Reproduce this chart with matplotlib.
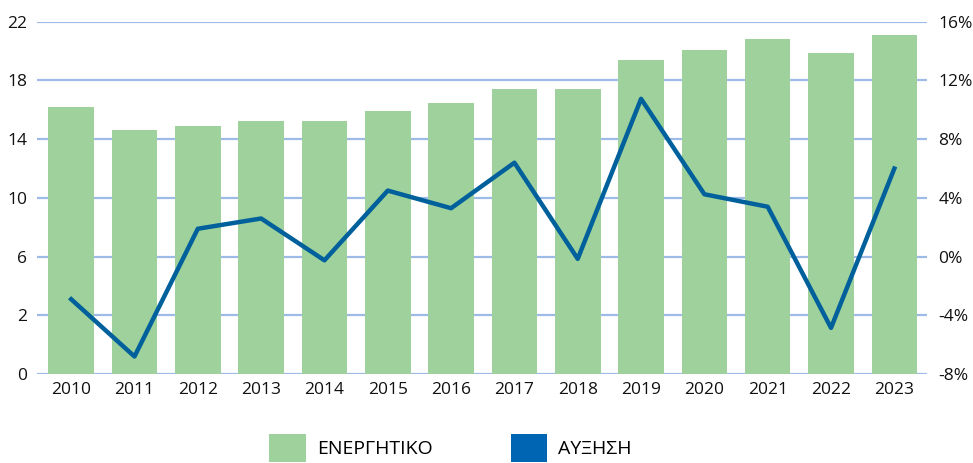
import numpy as np
from matplotlib import pyplot as plt
from matplotlib.patches import Patch

plt.rcParams['font.family'] = ['Open Sans', 'DejaVu Sans']

years = ['2010', '2011', '2012', '2013', '2014', '2015', '2016',
         '2017', '2018', '2019', '2020', '2021', '2022', '2023']
energitiko = [16.2, 14.6, 14.9, 15.25, 15.25, 15.9, 16.5,
              17.4, 17.4, 19.4, 20.1, 20.8, 19.9, 21.1]
afxisi = [-2.9, -6.8, 1.9, 2.6, -0.25, 4.5, 3.3,
          6.4, -0.15, 10.75, 4.25, 3.4, -4.85, 6.0]

left_ticks = [-2, 2, 6, 10, 14, 18, 22]
left_labels = ['0', '2', '6', '10', '14', '18', '22']
right_ticks = [-8, -4, 0, 4, 8, 12, 16]

bar_color = '#9ed19b'
line_color = '#00609c'
legend_blue = '#0066b3'
grid_color = '#9dbbe6'

fig = plt.figure(figsize=(9.73, 4.63), dpi=100)
ax = fig.add_axes([0.038, 0.192, 0.915, 0.761])
ax2 = ax.twinx()

x = np.arange(len(years))
ymin = left_ticks[0]
ax.bar(x, np.array(energitiko) - ymin, bottom=ymin, width=0.72,
       color=bar_color, zorder=2)
ax.set_ylim(left_ticks[0], left_ticks[-1])
ax.set_yticks(left_ticks)
ax.set_yticklabels(left_labels)
ax.set_xlim(-0.54, 13.52)
ax.set_xticks(x)
ax.set_xticklabels(years)
ax.grid(axis='y', color=grid_color, linewidth=1.6, zorder=0)
ax.set_axisbelow(True)

ax2.plot(x, afxisi, color=line_color, linewidth=3.2, zorder=3)
ax2.set_ylim(right_ticks[0], right_ticks[-1])
ax2.set_yticks(right_ticks)
ax2.set_yticklabels([f'{v}%' for v in right_ticks])

for a in (ax, ax2):
    for s in a.spines.values():
        s.set_visible(False)
    a.tick_params(length=0, labelsize=12.5, colors='#111111')
ax.tick_params(axis='y', pad=7)
ax.tick_params(axis='x', pad=6)
ax2.tick_params(axis='y', pad=8)

handles = [Patch(facecolor=bar_color), Patch(facecolor=legend_blue)]
fig.legend(handles, ['ΕΝΕΡΓΗΤΙΚΟ', 'ΑΥΞΗΣΗ'], loc='center',
           bbox_to_anchor=(0.463, 0.032), ncol=2, frameon=False,
           fontsize=14, handlelength=1.9, handleheight=1.8,
           handletextpad=0.55, columnspacing=4.0)

plt.savefig('out.png', dpi=100)
